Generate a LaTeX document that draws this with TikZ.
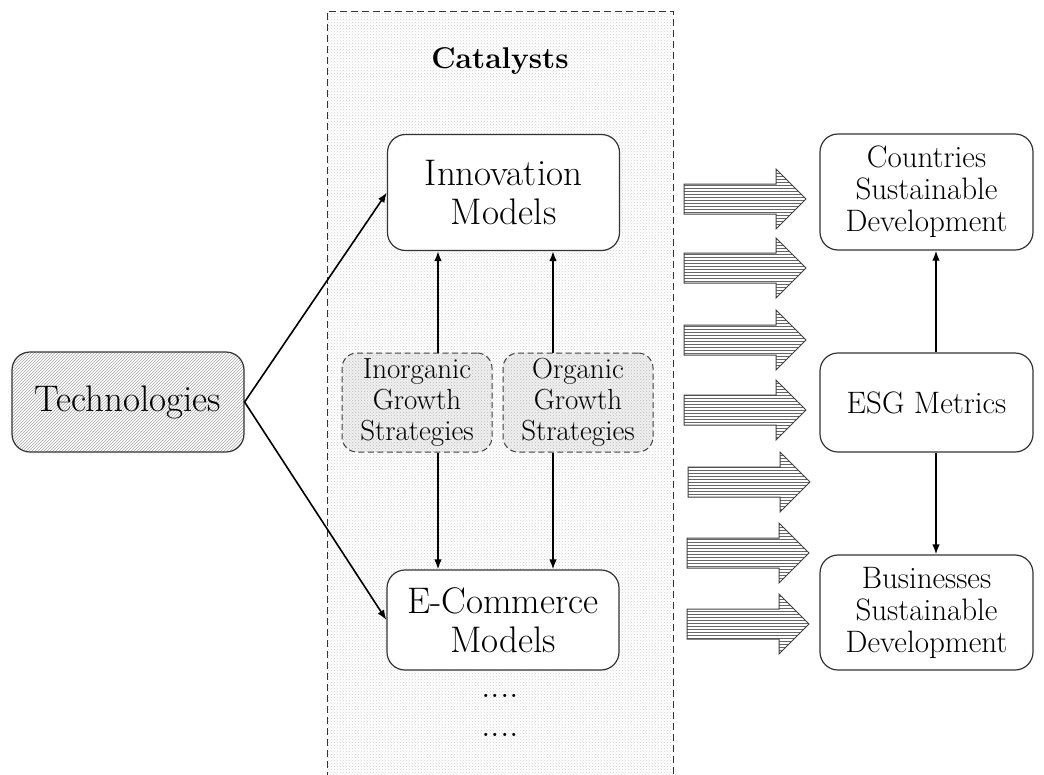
\documentclass[tikz,border=0pt]{standalone}
\usepackage{tikz}
\usetikzlibrary{arrows.meta,patterns,positioning}

\begin{document}
\begin{tikzpicture}[x=1pt, y=-1pt,
	box/.style={draw=black!80, line width=1.2pt, rounded corners=18pt, fill=white, align=center, inner sep=0pt},
	bigtext/.style={font=\fontsize{37}{39}\selectfont},
	righttext/.style={font=\fontsize{31}{32}\selectfont},
	smalltext/.style={font=\fontsize{29}{31}\selectfont},
	stratbox/.style={draw=black!75, line width=1pt, dash pattern=on 6pt off 3.5pt, rounded corners=15pt, preaction={fill=gray!12}, pattern=crosshatch dots, pattern color=gray!55, align=center, inner sep=0pt, minimum width=150, minimum height=99},
	conn/.style={line width=1.6pt, -{Latex[length=10pt,width=7.5pt]}},
	blockarrow/.style={draw=black!75, line width=1pt, pattern=horizontal lines, pattern color=black!60}]

	\useasboundingbox (0,0) rectangle (1044,774);

	% catalysts area
	\draw[black!80, line width=1pt, dash pattern=on 7pt off 4pt, pattern=crosshatch dots, pattern color=gray!35] (327,790) -- (327,11) -- (673,11) -- (673,790);
	\node[font=\fontsize{30}{32}\selectfont\bfseries] (catalysts) at (500,61) {Catalysts};

	\node[box, bigtext, draw=black!80, preaction={fill=white}, pattern=north east lines, pattern color=gray!70, minimum width=232, minimum height=100] (tech) at (128,402) {Technologies};

	\node[box, bigtext, minimum width=232, minimum height=116] (innov) at (503.5,192.5) {Innovation\\Models};
	\node[box, bigtext, minimum width=232, minimum height=100] (ecom) at (503,620) {E-Commerce\\Models};

	\node[stratbox, smalltext] (inorg) at (417,402.5) {Inorganic\\Growth\\Strategies};
	\node[stratbox, smalltext] (org) at (578,402.5) {Organic\\Growth\\Strategies};

	\node[font=\fontsize{38}{40}\selectfont, anchor=base] (dotsa) at (500,697) {....};
	\node[font=\fontsize{38}{40}\selectfont, anchor=base] (dotsb) at (500,736) {....};

	\node[box, righttext, minimum width=213, minimum height=116] (countries) at (926.5,192) {Countries\\Sustainable\\Development};
	\node[box, righttext, minimum width=213, minimum height=99] (esg) at (926.5,402.5) {ESG Metrics};
	\node[box, righttext, minimum width=213, minimum height=115] (business) at (926.5,612.5) {Businesses\\Sustainable\\Development};

	% connectors
	\draw[conn] (tech.east) -- (innov.west);
	\draw[conn] (tech.east) -- (ecom.west);

	\coordinate (la) at (438,0);
	\coordinate (lb) at (553,0);
	\coordinate (lc) at (936,0);
	\draw[conn] (inorg.north -| la) -- (innov.south -| la);
	\draw[conn] (inorg.south -| la) -- (ecom.north -| la);
	\draw[conn] (org.north -| lb) -- (innov.south -| lb);
	\draw[conn] (org.south -| lb) -- (ecom.north -| lb);
	\draw[conn] (esg.north -| lc) -- (countries.south -| lc);
	\draw[conn] (esg.south -| lc) -- (business.north -| lc);

	% block arrows
	\foreach \y/\dx in {199/0,268/0,340/0,410/0,482/4,553/3,624/3}{
		\draw[blockarrow] (684+\dx,\y-15) -- ++(92,0) -- ++(0,-15) -- ++(30,30) -- ++(-30,30) -- ++(0,-15) -- ++(-92,0) -- cycle;
	}
\end{tikzpicture}
\end{document}
